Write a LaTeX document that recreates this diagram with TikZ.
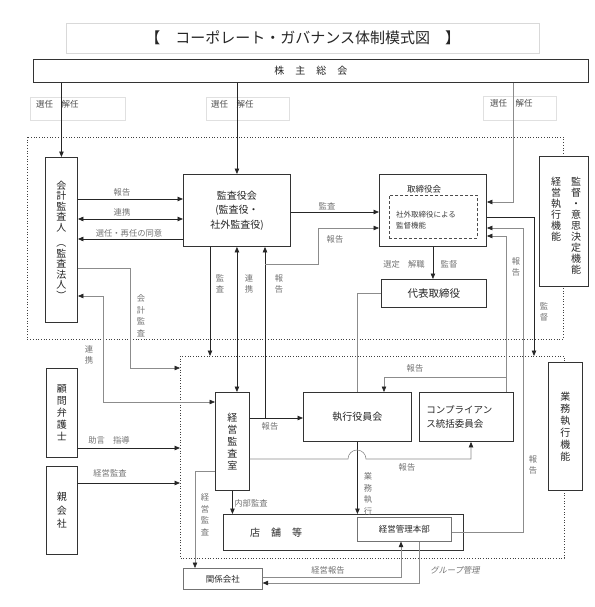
\documentclass[tikz,border=0pt]{standalone}
\usepackage{fontspec}
\setmainfont{Noto Sans CJK JP}
\newfontfamily\slantjp{Noto Sans CJK JP}[FakeSlant=0.2]
\usetikzlibrary{arrows.meta}

\tikzset{
  orgbox/.style={draw=black!80,line width=0.9pt,fill=white,inner sep=0pt,anchor=north west,
    align=center,text=black!85,font=\fontsize{10}{11.5}\selectfont},
  thinbox/.style={orgbox,draw=black!55,line width=0.6pt,font=\fontsize{8.5}{10}\selectfont},
  selbox/.style={draw=black!12,line width=0.5pt,inner sep=0pt,anchor=north west},
  lbl/.style={inner sep=1pt,text=black!55,font=\fontsize{8.3}{11.5}\selectfont,align=center},
  vtext/.style={inner sep=0pt,text=black!85,font=\fontsize{10}{11}\selectfont,align=center},
  endtip/.style={-{Triangle[length=5.5pt,width=4.5pt,color=black!85]}},
  conn/.style={draw=black!85,line width=0.8pt,endtip},
  dconn/.style={conn,{Triangle[length=5.5pt,width=4.5pt,color=black!85]}-{Triangle[length=5.5pt,width=4.5pt,color=black!85]}},
  gline/.style={draw=black!45,line width=0.6pt},
  gconn/.style={gline,endtip},
  gdconn/.style={gline,{Triangle[length=5.5pt,width=4.5pt,color=black!85]}-{Triangle[length=5.5pt,width=4.5pt,color=black!85]}},
  dotframe/.style={draw=black!75,line width=0.7pt,dotted}
}

\begin{document}
\begin{tikzpicture}[x=1pt,y=-1pt]
  \useasboundingbox (0,0) rectangle (594,607);

  % dotted areas
  \draw[dotframe] (27,137) rectangle (563,339);
  \draw[dotframe] (180,356) rectangle (564,558);
  \coordinate (lowNW) at (180,356);

  % title and shareholders
  \node[selbox,draw=black!15,minimum width=473pt,minimum height=30pt,text=black!85,
    font=\fontsize{15}{16}\selectfont] (title) at (66,23) {【　コーポレート・ガバナンス体制模式図　】};
  \node[orgbox,minimum width=555pt,minimum height=23pt] (sokai) at (33,59) {株\hspace{1.1em}主\hspace{1.1em}総\hspace{1.1em}会};

  \node[selbox,minimum width=95pt,minimum height=23pt] (sel1) at (30,97) {};
  \node[selbox,minimum width=83pt,minimum height=23pt] (sel2) at (206,97) {};
  \node[selbox,minimum width=73pt,minimum height=24pt] (sel3) at (483,96) {};
  \node[lbl,anchor=north west,text=black!70,font=\fontsize{8.5}{10}\selectfont] (selt1) at ([shift={(5,2)}]sel1.north west) {選任　解任};
  \node[lbl,anchor=north west,text=black!70,font=\fontsize{8.5}{10}\selectfont] (selt2) at ([shift={(4,2)}]sel2.north west) {選任　解任};
  \node[lbl,anchor=north west,text=black!70,font=\fontsize{8.5}{10}\selectfont] (selt3) at ([shift={(6,2)}]sel3.north west) {選任　解任};

  % upper area
  \node[orgbox,minimum width=32pt,minimum height=165pt,font=\fontsize{10}{10.5}\selectfont] (kaikei) at (45,157)
    {会\\計\\監\\査\\人\\[5pt]︵\\監\\査\\法\\人\\︶};
  \node[orgbox,minimum width=107pt,minimum height=72pt,font=\fontsize{10}{14.5}\selectfont] (kansa) at (183,174)
    {監査役会\\(監査役・\\社外監査役)};
  \node[orgbox,minimum width=107pt,minimum height=72pt] (tori) at (379,174) {};
  \node[draw=black!70,line width=0.6pt,densely dashed,inner sep=0pt,anchor=north west,
    minimum width=88pt,minimum height=43pt] (torikan) at (389,195) {};
  \node[inner sep=0pt,text=black!85,font=\fontsize{8.5}{10}\selectfont] (torit) at (424,189) {取締役会};
  \node[inner sep=0pt,anchor=west,align=left,text=black!75,font=\fontsize{7.5}{11}\selectfont] (torikant) at (396,220.5)
    {社外取締役による\\監督機能};
  \node[orgbox,minimum width=105pt,minimum height=28pt,font=\fontsize{10.5}{12}\selectfont] (daihyo) at (381,279) {代表取締役};
  \node[orgbox,minimum width=49pt,minimum height=130pt] (kanshi) at (539,156) {};
  \node[vtext,anchor=north] (kanshiR) at (576,177) {監\\督\\・\\意\\思\\決\\定\\機\\能};
  \node[vtext,anchor=north] (kanshiL) at (556,177) {経\\営\\執\\行\\機\\能};

  % lower area
  \node[orgbox,minimum width=31pt,minimum height=89pt,font=\fontsize{10}{12}\selectfont] (komon) at (46,368) {顧\\問\\弁\\護\\士};
  \node[orgbox,minimum width=31pt,minimum height=88pt,font=\fontsize{10}{13.5}\selectfont] (oya) at (46,466) {親\\会\\社};
  \node[orgbox,minimum width=34pt,minimum height=98pt,font=\fontsize{10}{12}\selectfont] (keiei) at (215,392) {経\\営\\監\\査\\室};
  \node[orgbox,minimum width=108pt,minimum height=49pt] (shikko) at (303,392) {執行役員会};
  \node[orgbox,minimum width=94pt,minimum height=49pt,text width=80pt,align=left,
    font=\fontsize{9.5}{13.5}\selectfont] (comp) at (419,392) {コンプライアン\\ス統括委員会};
  \node[orgbox,minimum width=34pt,minimum height=128pt,font=\fontsize{10}{12}\selectfont] (gyomu) at (548,362) {業\\務\\執\\行\\機\\能};
  \node[orgbox,minimum width=240pt,minimum height=36pt] (tenpo) at (223,514) {};
  \node[inner sep=0pt,text=black!85,font=\fontsize{10}{12}\selectfont] (tenpot) at (276,533) {店\hspace{1.1em}舗\hspace{1.1em}等};
  \node[thinbox,minimum width=94pt,minimum height=24pt] (honbu) at (357,517) {経営管理本部};
  \node[thinbox,minimum width=79pt,minimum height=21pt] (kankei) at (183,568) {関係会社};

  % from the shareholders
  \draw[conn] (kaikei.north |- sokai.south) -- (kaikei.north);
  \draw[conn] (kansa.north |- sokai.south) -- (kansa.north);
  \draw[gconn] (sokai.south -| 513,0) |- (tori.east |- 0,202);

  % auditors
  \draw[conn] (kaikei.east |- 0,199) -- (kansa.west |- 0,199);
  \draw[dconn] (kaikei.east |- 0,219) -- (kansa.west |- 0,219);
  \draw[conn] (kansa.west |- 0,239) -- (kaikei.east |- 0,239);
  \draw[conn] (kansa.east |- 0,212) -- (tori.west |- 0,212);
  \draw[conn] (kansa.south -| 210,0) -- (lowNW -| 210,0);
  \draw[dconn] (kansa.south) -- (kansa.south |- keiei.north);
  \coordinate (r1) at (265,418);
  \draw[conn] (keiei.east |- r1) -- (shikko.west |- r1);
  \draw[conn] (r1) -- (r1 |- kansa.south);
  \draw[gconn] (r1 |- 0,264) -| (318,228) -- (tori.west |- 0,228);
  \draw[gconn] (kaikei.east |- 0,268) -| (130,368) -- (lowNW |- 0,368);
  \draw[gdconn] (keiei.west |- 0,402) -| (103,296) -- (kaikei.east |- 0,296);

  % board
  \draw[conn] (tori.south) -- (tori.south |- daihyo.north);
  \draw[conn] (tori.east |- 0,217) -| (lowNW -| 534,0);
  \draw[gline] (daihyo.west) -| (shikko.north);
  \coordinate (r2) at (506,377);
  \draw[gconn] (comp.north -| r2) |- (tori.east |- 0,236);
  \draw[gconn] (r2) -| (shikko.north -| 384,0);
  \draw[gconn] (honbu.east |- 0,532) -| (523,228) -- (tori.east |- 0,228);

  % outside and execution
  \draw[conn] (komon.east |- 0,448) -- (lowNW |- 0,448);
  \draw[conn] (oya.east |- 0,483) -- (lowNW |- 0,483);
  \draw[conn] (keiei.south) -- (keiei.south |- tenpo.north);
  \draw[gconn] (keiei.west |- 0,471) -| (kankei.north -| 195,0);
  \draw[conn] (shikko.south) -- (shikko.south |- tenpo.north);
  \draw[gconn] (keiei.east |- 0,459) -- (348,459) arc[start angle=180,end angle=360,radius=9]
    -| (comp.south -| 471,0);
  \draw[gconn] (kankei.east |- 0,577) -| (honbu.south -| 401,0);
  \draw[gconn] (honbu.south -| 419,0) |- (kankei.east |- 0,583);

  % labels
  \node[lbl] (lHokoku1) at (122,192) {報告};
  \node[lbl] (lRenkei1) at (122,212) {連携};
  \node[lbl] (lDoi) at (129,233) {選任・再任の同意};
  \node[lbl] (lKansa1) at (327,206) {監査};
  \node[lbl] (lHokoku2) at (335,239) {報告};
  \node[lbl] (lSentei) at (404,264) {選定　解職};
  \node[lbl] (lKantoku1) at (449,264) {監督};
  \node[lbl] (lHokoku3) at (270,426) {報告};
  \node[lbl] (lHokoku4) at (415,368) {報告};
  \node[lbl] (lHokoku5) at (407,467) {報告};
  \node[lbl] (lNaibu) at (251,503) {内部監査};
  \node[lbl] (lJogen) at (109,440) {助言　指導};
  \node[lbl] (lKeieiKansa) at (110,473) {経営監査};
  \node[lbl] (lKeieiHokoku) at (328,570) {経営報告};
  \node[lbl,font=\slantjp\fontsize{8.3}{11}\selectfont] (lGroup) at (455,570) {グループ管理};

  \node[lbl] (vKansa) at (220,284) {監\\査};
  \node[lbl] (vRenkei) at (249,284) {連\\携};
  \node[lbl] (vHokoku1) at (279,284) {報\\告};
  \node[lbl] (vKaikei) at (141,316) {会\\計\\監\\査};
  \node[lbl] (vRenkei2) at (89,355) {連\\携};
  \node[lbl] (vKeieiKansa) at (205,515) {経\\営\\監\\査};
  \node[lbl] (vGyomu) at (368,494) {業\\務\\執\\行};
  \node[lbl] (vHokoku2) at (516,267) {報\\告};
  \node[lbl] (vKantoku) at (544,312) {監\\督};
  \node[lbl] (vHokoku3) at (533,465) {報\\告};
\end{tikzpicture}
\end{document}
